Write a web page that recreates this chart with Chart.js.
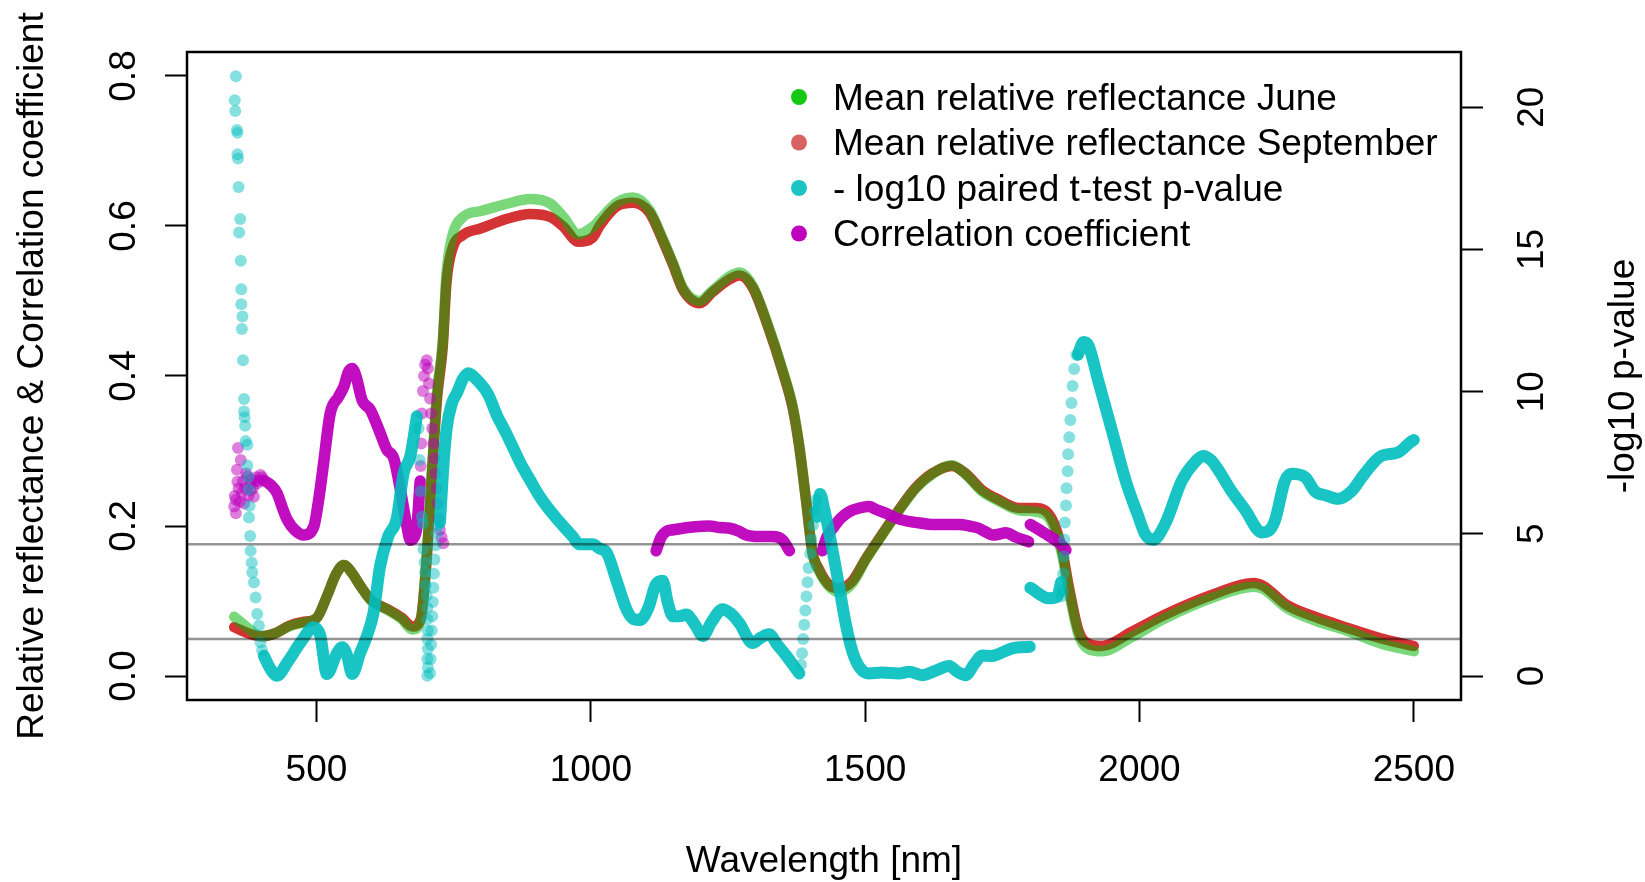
<!DOCTYPE html>
<html>
<head>
<meta charset="utf-8">
<script src="https://cdn.jsdelivr.net/npm/chart.js@4"></script>
<style>
  html, body { margin: 0; padding: 0; background: #fff; }
  #wrap { width: 1645px; height: 882px; }
</style>
</head>
<body>
<div id="wrap"><canvas id="myChart" width="1645" height="882"></canvas></div>
<script>
// ---- data ----
const xTicks = [500, 1000, 1500, 2000, 2500];
const leftTicks = [0.0, 0.2, 0.4, 0.6, 0.8];
const rightTicks = [0, 5, 10, 15, 20];
const sigLines = [1.301, 4.633]; // -log10(0.05) and bonferroni

// mean relative reflectance
const reflNm = [350, 375, 400, 425, 450, 475, 500, 520, 535, 550, 565, 580, 600, 630, 655, 675, 690, 700, 710, 720,
  730, 737, 747, 767, 800, 849, 889, 926, 950, 977, 1004, 1016, 1047, 1077, 1107, 1131, 1150, 1168, 1198, 1222,
  1253, 1271, 1295, 1320, 1350, 1368, 1380, 1392, 1404, 1416, 1435, 1453, 1477, 1501, 1531, 1562, 1592, 1622, 1658, 1683,
  1713, 1744, 1780, 1811, 1840, 1859, 1871, 1889, 1907, 1931, 1986, 2044, 2135, 2208, 2226, 2268, 2320, 2380, 2441, 2500];
const reflJune = [0.079, 0.064, 0.053, 0.057, 0.066, 0.071, 0.077, 0.108, 0.135, 0.148, 0.137, 0.120, 0.100, 0.088, 0.076, 0.062, 0.074, 0.150, 0.270, 0.380,
  0.445, 0.537, 0.585, 0.612, 0.620, 0.630, 0.636, 0.630, 0.612, 0.589, 0.599, 0.608, 0.631, 0.638, 0.621, 0.583, 0.550, 0.517, 0.500, 0.514,
  0.533, 0.538, 0.520, 0.474, 0.407, 0.359, 0.307, 0.236, 0.164, 0.140, 0.119, 0.112, 0.124, 0.155, 0.188, 0.221, 0.250, 0.269, 0.281, 0.269,
  0.246, 0.233, 0.221, 0.219, 0.205, 0.162, 0.115, 0.055, 0.036, 0.033, 0.052, 0.076, 0.105, 0.119, 0.116, 0.091, 0.074, 0.060, 0.043, 0.033];
const reflSept = [0.065, 0.057, 0.053, 0.057, 0.067, 0.072, 0.077, 0.108, 0.135, 0.148, 0.137, 0.120, 0.101, 0.089, 0.078, 0.066, 0.076, 0.148, 0.265, 0.372,
  0.438, 0.525, 0.568, 0.588, 0.597, 0.610, 0.616, 0.612, 0.599, 0.579, 0.585, 0.600, 0.626, 0.631, 0.618, 0.581, 0.548, 0.515, 0.497, 0.512,
  0.529, 0.534, 0.518, 0.472, 0.405, 0.357, 0.305, 0.236, 0.165, 0.142, 0.121, 0.117, 0.127, 0.156, 0.189, 0.222, 0.251, 0.270, 0.280, 0.270,
  0.248, 0.235, 0.224, 0.224, 0.210, 0.168, 0.120, 0.060, 0.043, 0.040, 0.059, 0.081, 0.109, 0.124, 0.120, 0.095, 0.079, 0.064, 0.050, 0.040];

// -log10 paired t-test p-value (dense part, null = break)
const pNm = [404, 416, 428, 447, 471, 495, 507, 519, 538, 547, 556, 565, 580, 592, 604, 616, 631, 646, 659, 671, 683, 690,
  725, 731, 737, 747, 756, 767, 777, 788, 798, 813, 828, 844, 859, 874, 889, 904, 919, 935, 950, 965, 980, 1004, 1016, 1029,
  1047, 1065, 1078, 1089, 1105, 1118, 1131, 1140, 1150, 1162, 1174, 1190, 1204, 1220, 1240, 1255, 1271, 1295, 1310, 1325, 1340, 1356, 1370, 1380, 1395,
  1413, 1418, 1425, 1435, 1453, 1465, 1477, 1490, 1507, 1530, 1562, 1580, 1604, 1630, 1653, 1668, 1683, 1700, 1713, 1730, 1744, 1768, 1800, 1800.5,
  1801, 1835, 1850, 1857, 1870,
  1888, 1898, 1907, 1925, 1950, 1975, 1998, 2010, 2025, 2047, 2077, 2100, 2116, 2130, 2144, 2168, 2192, 2223, 2235, 2247, 2265, 2277, 2302, 2320,
  2340, 2362, 2386, 2410, 2441, 2471, 2495, 2500];
const pVal = [0.71, 0.25, 0.01, 0.48, 1.18, 1.71, 1.41, 0.07, 0.83, 1.01, 0.71, 0.07, 0.83, 1.41, 2.23, 3.87, 4.92, 5.51, 7.15, 7.73, 9.13, null,
  5.4, 7.3, 8.67, 9.6, 9.95, 10.45, 10.65, 10.5, 10.3, 9.9, 9.2, 8.6, 8.0, 7.4, 6.9, 6.4, 5.98, 5.6, 5.27, 4.95, 4.63, 4.63, 4.48, 4.34,
  3.35, 2.35, 2.0, 1.97, 2.4, 3.2, 3.35, 2.6, 2.1, 2.1, 2.16, 1.8, 1.41, 1.9, 2.35, 2.2, 1.85, 1.16, 1.35, 1.47, 1.1, 0.72, 0.35, 0.09, null,
  5.6, 6.4, 5.9, 4.98, 3.1, 1.8, 0.85, 0.3, 0.09, 0.12, 0.09, 0.15, 0.03, 0.2, 0.35, 0.15, 0.03, 0.45, 0.72, 0.7, 0.78, 0.97, 1.03, null,
  3.1, 2.73, 2.79, 3.3, null,
  11.3, 11.75, 11.62, 10.37, 8.62, 6.86, 5.61, 5.0, 4.79, 5.36, 6.86, 7.5, 7.74, 7.6, 7.24, 6.49, 5.86, 5.05, 5.1, 5.48, 6.86, 7.11, 6.99, 6.49,
  6.35, 6.23, 6.49, 7.11, 7.74, 7.86, 8.24, 8.3];
// p-value: single points on the steep parts
const pDotNm = [353, 351, 352, 355, 356, 356, 357, 358, 361, 359, 362, 363, 363, 365, 364, 366, 368, 368, 369, 370, 371, 374, 374, 376, 377,
  378, 377, 379, 380, 382, 383, 386, 389, 392, 395, 398, 401,
  686, 688, 690, 692, 694, 695, 697, 698, 699, 701, 702, 702, 703, 702, 703, 702, 703, 702,
  707, 708, 709, 710, 711, 712, 713, 714, 715, 717, 719, 722,
  1383, 1385, 1387, 1389, 1391, 1393, 1395, 1397, 1400, 1402, 1405, 1408, 1411,
  1858, 1860, 1861, 1862, 1863, 1864, 1866, 1867, 1869, 1870, 1872, 1874, 1876, 1878, 1881, 1885];
const pDotVal = [21.09, 20.25, 19.87, 19.2, 19.1, 18.35, 18.2, 17.2, 16.07, 15.6, 14.6, 13.6, 13.07, 12.64, 12.2, 11.1, 9.74, 9.3, 9.1, 8.8, 8.26, 8.13, 7.4, 7.0, 6.56,
  5.98, 5.57, 4.92, 4.4, 3.98, 3.64, 3.29, 2.76, 2.18, 1.77, 1.18, 0.9,
  8.7, 7.6, 6.5, 5.6, 5.36, 4.46, 4.0, 3.64, 3.2, 2.82, 2.4, 2.0, 1.6, 1.3, 0.95, 0.6, 0.3, 0.01,
  0.1, 0.6, 1.1, 1.6, 2.1, 2.6, 3.1, 3.6, 4.1, 4.6, 5.0, 5.3,
  0.4, 0.8, 1.3, 1.8, 2.3, 2.8, 3.3, 3.8, 4.3, 4.8, 5.3, 5.8, 6.2,
  2.8, 3.0, 3.6, 4.2, 4.8, 5.4, 6.0, 6.6, 7.2, 7.8, 8.4, 9.0, 9.6, 10.2, 10.8, 11.3];

// correlation coefficient (dense part, null = break)
const corNm = [404, 416, 428, 440, 447, 460, 477, 495, 505, 513, 525, 540, 550, 558, 565, 572, 583, 598, 616, 628, 641, 653, 665, 671, 678, 683, 689, 690,
  1119, 1128, 1138, 1150, 1168, 1190, 1216, 1235, 1253, 1270, 1283, 1307, 1331, 1350, 1362, 1390,
  1422, 1430, 1441, 1455, 1471, 1490, 1507, 1520, 1538, 1555, 1574, 1600, 1622, 1650, 1671, 1690, 1707, 1720, 1732, 1744, 1756, 1775, 1798, 1800,
  1801, 1815, 1828, 1845, 1859, 1866];
const corVal = [0.261, 0.255, 0.244, 0.220, 0.208, 0.195, 0.188, 0.199, 0.240, 0.284, 0.350, 0.372, 0.386, 0.405, 0.410, 0.400, 0.368, 0.355, 0.324, 0.302, 0.290, 0.248, 0.199, 0.181, 0.185, 0.199, 0.260, null,
  0.167, 0.185, 0.193, 0.195, 0.197, 0.199, 0.200, 0.198, 0.197, 0.193, 0.188, 0.186, 0.186, 0.181, 0.167, null,
  0.167, 0.185, 0.197, 0.210, 0.219, 0.224, 0.226, 0.222, 0.217, 0.211, 0.207, 0.204, 0.202, 0.202, 0.202, 0.200, 0.197, 0.192, 0.188, 0.189, 0.191, 0.185, 0.179, null,
  0.202, 0.196, 0.190, 0.182, 0.174, 0.168];
// correlation: single points
const corDotNm = [350, 351, 353, 353, 355, 356, 357, 358, 360, 362, 364, 366, 368, 370, 372, 374, 376, 378, 380, 382, 384, 386, 388, 390, 392, 395, 398, 401,
  690, 691, 692, 694, 696, 698, 701, 703, 705, 707, 709, 711, 713, 715, 717, 719, 721, 723, 725, 728, 731];
const corDotVal = [0.226, 0.240, 0.235, 0.217, 0.275, 0.259, 0.304, 0.250, 0.232, 0.288, 0.245, 0.260, 0.230, 0.250, 0.270, 0.266, 0.240, 0.255, 0.248, 0.262, 0.250, 0.239, 0.260, 0.265, 0.257, 0.260, 0.268, 0.265,
  0.280, 0.310, 0.350, 0.380, 0.400, 0.415, 0.421, 0.410, 0.390, 0.370, 0.350, 0.330, 0.310, 0.290, 0.270, 0.250, 0.230, 0.210, 0.195, 0.185, 0.177];

const legendLabels = ['Mean relative reflectance June', 'Mean relative reflectance September', '- log10 paired t-test p-value', 'Correlation coefficient'];
const legendColors = ['#14c814', '#d96363', '#1cc4c4', '#be00be'];

const FONT = '"Liberation Sans", Arial, Helvetica, sans-serif';
const FS = 37;

function pts(xs, ys) {
  return xs.map((x, i) => ({ x: x, y: ys[i] }));
}

// y axis labels, titles, box and legend drawn R-style
const rStyle = {
  id: 'rStyle',
  afterDatasetsDraw(chart) {
    const { ctx, chartArea: a } = chart;
    ctx.save();
    ctx.strokeStyle = '#000';
    ctx.lineWidth = 2.5;
    ctx.strokeRect(a.left, a.top, a.right - a.left, a.bottom - a.top);
    ctx.restore();
  },
  afterDraw(chart) {
    const { ctx, scales, chartArea: a } = chart;
    ctx.save();
    ctx.font = FS + 'px ' + FONT;
    ctx.fillStyle = '#000';
    ctx.textAlign = 'center';
    ctx.textBaseline = 'alphabetic';
    const rot = (txt, x, y) => {
      ctx.save();
      ctx.translate(x, y);
      ctx.rotate(-Math.PI / 2);
      ctx.fillText(txt, 0, 0);
      ctx.restore();
    };
    leftTicks.forEach(v => rot(v.toFixed(1), 135, scales.y.getPixelForValue(v)));
    rightTicks.forEach(v => rot(String(v), 1543, scales.y2.getPixelForValue(v)));
    const midY = (a.top + a.bottom) / 2;
    rot('Relative reflectance & Correlation coefficient', 43, midY);
    rot('-log10 p-value', 1634, midY);

    // legend
    ctx.textAlign = 'left';
    legendLabels.forEach((lab, i) => {
      const y = 97 + i * 45.5;
      ctx.fillStyle = legendColors[i];
      ctx.beginPath();
      ctx.arc(799, y, 8, 0, Math.PI * 2);
      ctx.fill();
      ctx.fillStyle = '#000';
      ctx.fillText(lab, 833, y + 12.5);
    });
    ctx.restore();
  }
};

const lineBase = {
  pointRadius: 0,
  borderCapStyle: 'round',
  borderJoinStyle: 'round',
  cubicInterpolationMode: 'monotone',
  spanGaps: false,
  fill: false
};

const datasets = [
  { ...lineBase, label: 'sig1', data: [{ x: 264, y: sigLines[0] }, { x: 2586, y: sigLines[0] }], yAxisID: 'y2',
    borderColor: 'rgba(0,0,0,0.42)', borderWidth: 2.5, borderCapStyle: 'butt', order: 0 },
  { ...lineBase, label: 'sig2', data: [{ x: 264, y: sigLines[1] }, { x: 2586, y: sigLines[1] }], yAxisID: 'y2',
    borderColor: 'rgba(0,0,0,0.42)', borderWidth: 2.5, borderCapStyle: 'butt', order: 0 },
  { label: 'p dots', data: pts(pDotNm, pDotVal), yAxisID: 'y2', showLine: false,
    pointRadius: 6, pointBorderWidth: 0, pointBackgroundColor: 'rgba(0,190,190,0.47)', order: 1 },
  { ...lineBase, label: legendLabels[2], data: pts(pNm, pVal), yAxisID: 'y2',
    borderColor: 'rgba(0,190,190,0.9)', borderWidth: 12, order: 2 },
  { label: 'cor dots', data: pts(corDotNm, corDotVal), yAxisID: 'y', showLine: false,
    pointRadius: 6, pointBorderWidth: 0, pointBackgroundColor: 'rgba(190,0,190,0.5)', order: 3 },
  { ...lineBase, label: legendLabels[3], data: pts(corNm, corVal), yAxisID: 'y',
    borderColor: 'rgba(188,0,188,0.95)', borderWidth: 11.5, order: 4 },
  { ...lineBase, label: legendLabels[0], data: pts(reflNm, reflJune), yAxisID: 'y',
    borderColor: 'rgba(0,180,0,0.52)', borderWidth: 10.5, order: 5 },
  { ...lineBase, label: legendLabels[1], data: pts(reflNm, reflSept), yAxisID: 'y',
    borderColor: 'rgba(200,0,0,0.8)', borderWidth: 10.5, order: 6 }
];

const tickGrid = { drawOnChartArea: false, drawTicks: true, tickLength: 22, tickColor: '#000', tickWidth: 2 };

const ctx = document.getElementById('myChart').getContext('2d');
const myChart = new Chart(ctx, {
  type: 'line',
  data: { datasets: datasets },
  plugins: [rStyle],
  options: {
    responsive: false,
    animation: false,
    events: [],
    layout: { padding: { top: 52, left: 0, right: 0, bottom: 0 } },
    plugins: { legend: { display: false }, tooltip: { enabled: false } },
    scales: {
      x: {
        type: 'linear',
        min: 264,
        max: 2586,
        afterBuildTicks: s => { s.ticks = xTicks.map(v => ({ value: v })); },
        afterFit: s => { s.height = 182; },
        grid: tickGrid,
        border: { display: true, color: '#000', width: 2 },
        ticks: { font: { family: FONT, size: FS }, color: '#000', padding: 27, maxRotation: 0, autoSkip: false,
          callback: v => String(v) },
        title: { display: true, text: 'Wavelength [nm]', font: { family: FONT, size: FS }, color: '#000',
          padding: { top: 0, bottom: -2 } }
      },
      y: {
        type: 'linear',
        position: 'left',
        min: -0.032,
        max: 0.832,
        afterBuildTicks: s => { s.ticks = leftTicks.map(v => ({ value: v })); },
        afterFit: s => { s.width = 187; },
        grid: tickGrid,
        border: { display: true, color: '#000', width: 2 },
        ticks: { display: false }
      },
      y2: {
        type: 'linear',
        position: 'right',
        min: -0.844,
        max: 21.944,
        afterBuildTicks: s => { s.ticks = rightTicks.map(v => ({ value: v })); },
        afterFit: s => { s.width = 184; },
        grid: tickGrid,
        border: { display: true, color: '#000', width: 2 },
        ticks: { display: false }
      }
    }
  }
});
</script>
</body>
</html>
